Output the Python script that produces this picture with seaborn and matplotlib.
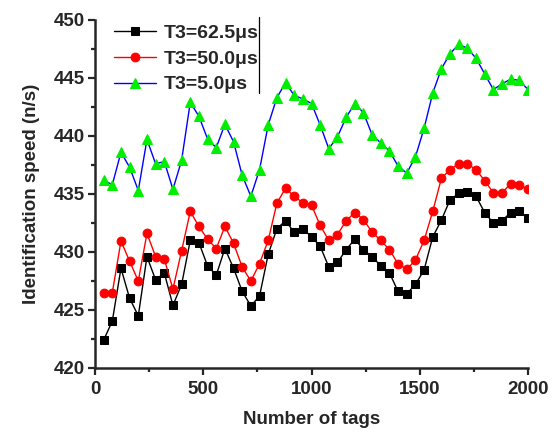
import numpy as np
import pandas as pd
import matplotlib
matplotlib.use("Agg")
import matplotlib.pyplot as plt
from matplotlib.ticker import MultipleLocator
import seaborn as sns

tags = list(range(40, 2001, 40))

t3_62_5 = [422.4, 424.05, 428.6, 426.0, 424.5, 429.6, 427.6, 428.2, 425.4, 427.2,
           431.0, 430.8, 428.8, 428.0, 430.3, 428.6, 426.6, 425.35, 426.2, 429.8,
           432.0, 432.7, 431.7, 432.0, 431.3, 430.5, 428.7, 429.1, 430.2, 431.1,
           430.2, 429.6, 428.8, 428.2, 426.6, 426.4, 427.2, 428.45, 431.3, 432.75,
           434.5, 435.05, 435.2, 434.8, 433.4, 432.5, 432.7, 433.4, 433.5, 432.9]

t3_50_0 = [426.5, 426.5, 430.95, 429.2, 427.5, 431.6, 429.6, 429.4, 426.8, 430.1,
           433.5, 432.2, 431.1, 430.3, 432.2, 430.75, 428.7, 427.5, 429.0, 431.0,
           434.2, 435.5, 434.8, 434.25, 434.05, 432.3, 431.0, 431.5, 432.7, 433.4,
           432.8, 431.7, 431.0, 430.2, 428.97, 428.5, 429.3, 431.0, 433.5, 436.35,
           437.1, 437.6, 437.6, 437.1, 436.15, 435.1, 435.1, 435.9, 435.8, 435.4]

t3_5_0 = [436.2, 435.8, 438.6, 437.3, 435.3, 439.7, 437.6, 437.8, 435.4, 437.9,
          442.9, 441.7, 439.74, 439.0, 441.0, 439.5, 436.6, 434.8, 437.1, 440.95,
          443.3, 444.6, 443.5, 443.2, 442.8, 440.95, 438.9, 439.94, 441.6, 442.8,
          442.0, 440.1, 439.4, 438.7, 437.4, 436.8, 438.2, 440.66, 443.7, 445.8,
          447.1, 447.9, 447.56, 446.7, 445.35, 444.0, 444.5, 444.9, 444.8, 444.0]

labels = ["T3=62.5\u03bcs", "T3=50.0\u03bcs", "T3=5.0\u03bcs"]
x_ticks = [0, 500, 1000, 1500, 2000]
y_ticks = [420, 425, 430, 435, 440, 445, 450]

sns.set_style("ticks")
plt.rcParams['font.family'] = ['Liberation Sans', 'DejaVu Sans']
plt.rcParams['font.weight'] = 'bold'

fig = plt.figure(figsize=(5.6, 4.33), dpi=100)
ax = fig.add_axes([95/560, 1-368/433, 433/560, 348/433])

sns.lineplot(x=tags, y=t3_62_5, ax=ax, color='black', marker='s', markersize=5.5,
             markeredgecolor='black', markerfacecolor='black', linewidth=1.0,
             label=labels[0])
sns.lineplot(x=tags, y=t3_50_0, ax=ax, color='red', marker='o', markersize=6.3,
             markeredgecolor='red', markerfacecolor='red', linewidth=1.0,
             label=labels[1])
sns.lineplot(x=tags, y=t3_5_0, ax=ax, color='blue', marker='^', markersize=7.5,
             markeredgecolor='#00ee00', markerfacecolor='#00ee00', linewidth=1.0,
             label=labels[2])

ax.set_xlim(0, 2000)
ax.set_ylim(420, 450)
ax.set_xticks(x_ticks)
ax.set_yticks(y_ticks)
ax.xaxis.set_minor_locator(MultipleLocator(250))
ax.yaxis.set_minor_locator(MultipleLocator(2.5))
ax.tick_params(which='major', direction='out', length=5, width=1.6, labelsize=13.5)
ax.tick_params(axis='x', which='major', pad=4.5)
ax.tick_params(axis='y', which='major', pad=2.5)
ax.tick_params(which='minor', direction='out', length=3, width=1.6)
for lab in ax.get_xticklabels() + ax.get_yticklabels():
    lab.set_fontweight('bold')
sns.despine(ax=ax)
for s in ['left', 'bottom']:
    ax.spines[s].set_linewidth(1.8)

ax.set_xlabel("Number of tags", fontsize=13.5, fontweight='bold', labelpad=9)
ax.set_ylabel("Identification speed (n/s)", fontsize=13.5, fontweight='bold', labelpad=10)

leg = ax.legend(loc='upper left', bbox_to_anchor=(0.025, 1.01), frameon=False,
                fontsize=14, handlelength=2.2, labelspacing=0.42, handletextpad=0.4,
                borderaxespad=0.0)
for t in leg.get_texts():
    t.set_fontweight('bold')
ax.plot([0.378, 0.378], [0.79, 1.01], transform=ax.transAxes, color='black',
        linewidth=0.9, clip_on=False)

fig.savefig("out.png", dpi=100)
